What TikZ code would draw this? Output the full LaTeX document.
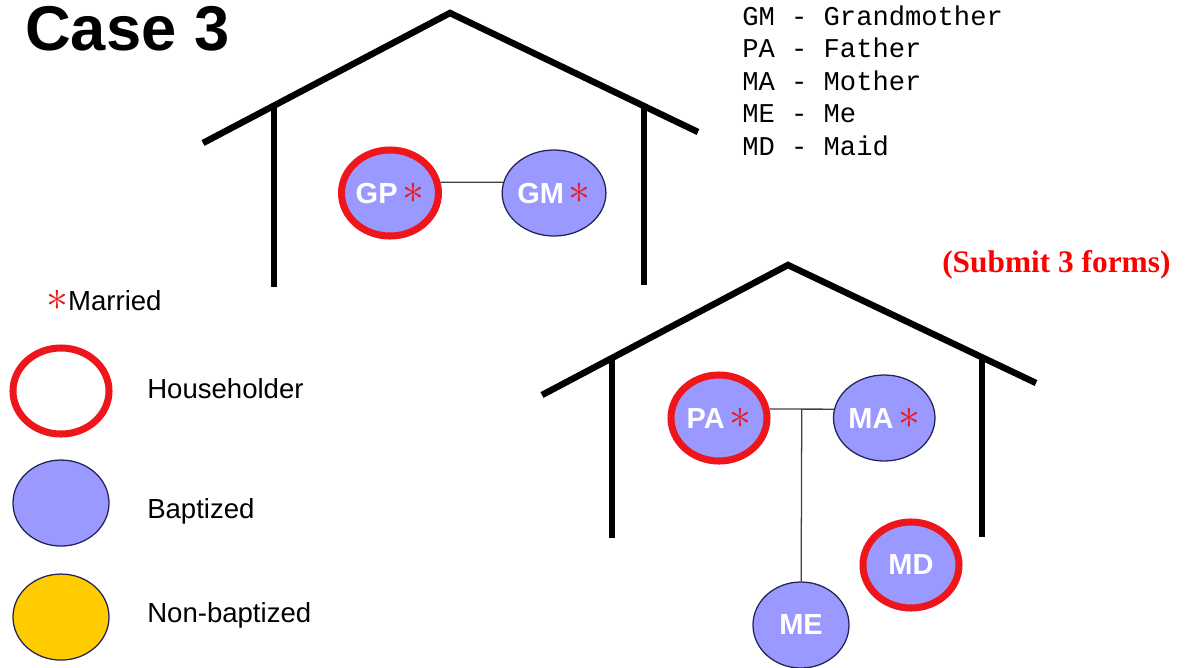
\documentclass[tikz,border=0pt]{standalone}
\usepackage{fontspec}
\setmainfont{Liberation Sans}
\newfontfamily\courierfont{Liberation Mono}
\newfontfamily\timesfont{Liberation Serif}
\usepackage{tikz}
\usetikzlibrary{shapes.geometric}
\definecolor{hhred}{RGB}{238,22,26}
\definecolor{lavender}{RGB}{153,153,255}
\definecolor{gold}{RGB}{255,204,0}
\definecolor{navyline}{RGB}{35,35,85}
\newcommand{\mstar}{\textcolor{hhred}{\scalebox{1.5}{$\ast$}}}
\tikzstyle{person} = [ellipse, minimum width=2.4cm, minimum height=2.15cm, inner sep=0pt, fill=lavender, draw=navyline, line width=0.9pt, text=white, font=\fontsize{20.6}{20.6}\selectfont\bfseries]
\tikzstyle{householder} = [person, draw=hhred, line width=5pt]
\tikzstyle{nonbaptized} = [person, fill=gold]
\tikzstyle{legend} = [anchor=base west, inner sep=0pt, font=\fontsize{19.6}{19.6}\selectfont]
\tikzstyle{code} = [anchor=base west, inner sep=0pt, font=\courierfont\fontsize{19.3}{19.3}\selectfont]
\tikzstyle{wall} = [line width=4.6pt]
\tikzstyle{link} = [line width=0.9pt, draw=black!75]

\begin{document}
\begin{tikzpicture}[x=0.025cm, y=-0.025cm, node distance=4.1cm]
    \useasboundingbox (0,0) rectangle (1186,667);
        \node (title) [anchor=base west, inner sep=0pt, font=\fontsize{45}{45}\selectfont\bfseries] at (25,50) {Case 3};

        % houses
        \draw[wall] (203,143) -- (450,13) -- (698,132);
        \draw[wall] (274,106) -- (274,287);
        \draw[wall] (644,106) -- (644,285);
        \draw[wall] (542,395) -- (788,265) -- (1036,383);
        \draw[wall] (612,358) -- (612,538);
        \draw[wall] (982,357) -- (982,537);

        % people
        \node (gp) [householder] at (390,193) {GP\,\mstar};
        \node (gm) [person, right of=gp] {GM\,\mstar};
        \node (pa) [householder] at (719,418) {PA\,\mstar};
        \node (ma) [person, right of=pa, xshift=0.03cm] {MA\,\mstar};
        \node (md) [householder] at (911,565) {MD};
        \node (me) [person] at (801,625) {ME};

        \draw[link] (gp.12) -- (gm.168);
        \draw[link] (pa.10) -- coordinate[pos=0.5] (pm) (ma.170);
        \draw[link] (pm) -- (me);

        % key
        \node (kgm) [code] at (742,25) {GM - Grandmother};
        \node (kpa) [code] at (742,57) {PA - Father};
        \node (kma) [code] at (742,90) {MA - Mother};
        \node (kme) [code] at (742,122) {ME - Me};
        \node (kmd) [code] at (742,155) {MD - Maid};
        \node (forms) [anchor=base west, inner sep=0pt, text=red, font=\timesfont\fontsize{22.3}{22.3}\selectfont\bfseries] at (942,272) {(Submit 3 forms)};

        % legend
        \node (married) [legend] at (46,310) {\mstar Married};
        \node (hh) [householder, fill=white] at (61,391) {};
        \node (bap) [person, node distance=2.8cm, below of=hh] {};
        \node (nbap) [nonbaptized, node distance=2.85cm, below of=bap] {};
        \node (thh) [legend] at (147,398) {Householder};
        \node (tbap) [legend] at (147,518) {Baptized};
        \node (tnbap) [legend] at (147,622) {Non-baptized};
\end{tikzpicture}
\end{document}
